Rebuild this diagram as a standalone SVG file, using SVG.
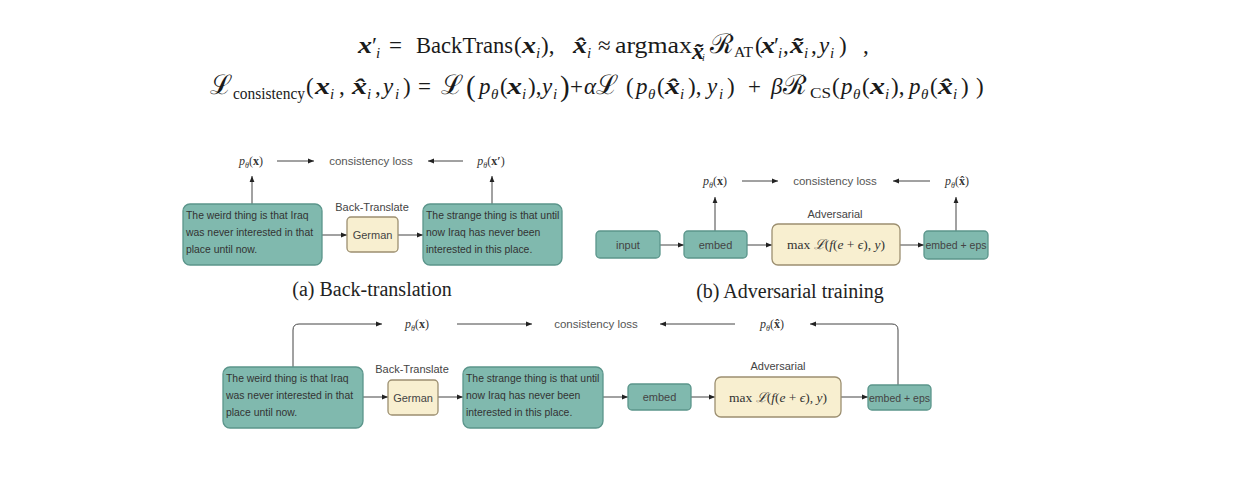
<svg xmlns="http://www.w3.org/2000/svg" width="1250" height="478" viewBox="0 0 1250 478">
<style>
.eq{font-family:"Liberation Serif","DejaVu Serif",serif;font-size:23px;fill:#1a1a1a}
.b{font-weight:bold;font-style:italic;font-size:24px}
.it{font-style:italic}
.cal{font-size:27px}
.sub{font-size:15px;font-style:italic}
.box{fill:#80b9ae;stroke:#5b958b;stroke-width:1.3}
.cream{fill:#f8efd0;stroke:#9c8f70;stroke-width:1.3}
.bt{font-family:"Liberation Sans",Arial,sans-serif;font-size:10.4px;fill:#333}
.lbl{font-family:"Liberation Sans",Arial,sans-serif;font-size:11.5px;fill:#555}
.nl{font-family:"Liberation Sans",Arial,sans-serif;font-size:11px;fill:#444}
.p{font-family:"Liberation Serif","DejaVu Serif",serif;font-size:12px;fill:#333}
.cap{font-family:"Liberation Serif","DejaVu Serif",serif;font-size:20px;fill:#222}
.ln{fill:none;stroke:#444;stroke-width:1}
.mx{font-family:"Liberation Serif","DejaVu Serif",serif;font-size:13.5px;fill:#333}
</style>
<defs>
<marker id="ah" viewBox="0 0 10 10" refX="10" refY="5" markerWidth="6" markerHeight="6" orient="auto">
<path d="M0,1 L10,5 L0,9 z" fill="#222"/>
</marker>
</defs>
<rect width="1250" height="478" fill="#ffffff"/>

<g id="equations">
<text class="eq" y="53"><tspan class="b" x="358" textLength="14" lengthAdjust="spacingAndGlyphs">x</tspan><tspan x="372">′</tspan><tspan class="sub" x="376" y="58">i</tspan><tspan x="389" y="53">=</tspan><tspan x="416" textLength="97" lengthAdjust="spacingAndGlyphs">BackTrans</tspan><tspan x="514">(</tspan><tspan class="b" x="522" textLength="14" lengthAdjust="spacingAndGlyphs">x</tspan><tspan class="sub" x="536" y="58">i</tspan><tspan x="541" y="53">),</tspan><tspan class="b" x="573" textLength="14" lengthAdjust="spacingAndGlyphs">x̂</tspan><tspan class="sub" x="587" y="58">i</tspan><tspan x="598" y="53">≈</tspan><tspan x="615" textLength="77" lengthAdjust="spacingAndGlyphs">argmax</tspan><tspan class="b" font-size="14" x="692" y="59">x̃</tspan><tspan class="it" font-size="10" x="702" y="61">i</tspan><tspan class="cal" x="710" y="53">ℛ</tspan><tspan font-size="14" x="734" y="57" textLength="19" lengthAdjust="spacingAndGlyphs">AT</tspan><tspan x="755" y="53">(</tspan><tspan class="b" x="761" textLength="14" lengthAdjust="spacingAndGlyphs">x</tspan><tspan x="774">′</tspan><tspan class="sub" x="778" y="58">i</tspan><tspan x="783" y="53">,</tspan><tspan class="b" x="790" textLength="14" lengthAdjust="spacingAndGlyphs">x̃</tspan><tspan class="sub" x="804" y="58">i</tspan><tspan x="811" y="53">,</tspan><tspan class="it" x="819">y</tspan><tspan class="sub" x="830" y="58">i</tspan><tspan x="839" y="53">)</tspan><tspan x="863">,</tspan></text>

<text class="eq" y="94"><tspan class="cal" x="210">ℒ</tspan><tspan font-size="16" x="233" y="99" textLength="72" lengthAdjust="spacingAndGlyphs">consistency</tspan><tspan x="306" y="94">(</tspan><tspan class="b" x="315" textLength="15" lengthAdjust="spacingAndGlyphs">x</tspan><tspan class="sub" x="330" y="99">i</tspan><tspan x="339" y="94">,</tspan><tspan class="b" x="352" textLength="15" lengthAdjust="spacingAndGlyphs">x̂</tspan><tspan class="sub" x="367" y="99">i</tspan><tspan x="375" y="94">,</tspan><tspan class="it" x="383">y</tspan><tspan class="sub" x="395" y="99">i</tspan><tspan x="403" y="94">)</tspan><tspan x="418">=</tspan><tspan class="cal" x="441">ℒ</tspan><tspan font-size="29" x="466" y="96">(</tspan><tspan class="it" x="479" y="94">p</tspan><tspan class="sub" x="491" y="99">θ</tspan><tspan x="500" y="94">(</tspan><tspan class="b" x="507" textLength="15" lengthAdjust="spacingAndGlyphs">x</tspan><tspan class="sub" x="522" y="99">i</tspan><tspan x="528" y="94">),</tspan><tspan class="it" x="542">y</tspan><tspan class="sub" x="553" y="99">i</tspan><tspan font-size="29" x="560" y="96">)</tspan><tspan x="570" y="94">+</tspan><tspan class="it" x="584">α</tspan><tspan class="cal" x="596">ℒ</tspan><tspan x="626">(</tspan><tspan class="it" x="636">p</tspan><tspan class="sub" x="648" y="99">θ</tspan><tspan x="657" y="94">(</tspan><tspan class="b" x="665" textLength="15" lengthAdjust="spacingAndGlyphs">x̂</tspan><tspan class="sub" x="680" y="99">i</tspan><tspan x="688" y="94">),</tspan><tspan class="it" x="707">y</tspan><tspan class="sub" x="719" y="99">i</tspan><tspan x="727" y="94">)</tspan><tspan x="748">+</tspan><tspan class="it" x="771">β</tspan><tspan class="cal" x="783">ℛ</tspan><tspan font-size="15" x="810" y="98" textLength="21" lengthAdjust="spacingAndGlyphs">CS</tspan><tspan x="832" y="94">(</tspan><tspan class="it" x="841">p</tspan><tspan class="sub" x="853" y="99">θ</tspan><tspan x="862" y="94">(</tspan><tspan class="b" x="870" textLength="15" lengthAdjust="spacingAndGlyphs">x</tspan><tspan class="sub" x="885" y="99">i</tspan><tspan x="891" y="94">),</tspan><tspan class="it" x="909">p</tspan><tspan class="sub" x="921" y="99">θ</tspan><tspan x="930" y="94">(</tspan><tspan class="b" x="938" textLength="15" lengthAdjust="spacingAndGlyphs">x̂</tspan><tspan class="sub" x="953" y="99">i</tspan><tspan x="961" y="94">)</tspan><tspan x="976">)</tspan></text>
</g>

<g id="connectors">
<!-- panel a -->
<line class="ln" x1="322" y1="235" x2="347" y2="235" marker-end="url(#ah)"/>
<line class="ln" x1="398" y1="235" x2="423" y2="235" marker-end="url(#ah)"/>
<line class="ln" x1="252" y1="204" x2="252" y2="176" marker-end="url(#ah)"/>
<line class="ln" x1="492" y1="204" x2="492" y2="176" marker-end="url(#ah)"/>
<line class="ln" x1="277" y1="161" x2="314" y2="161" marker-end="url(#ah)"/>
<line class="ln" x1="463" y1="161" x2="428" y2="161" marker-end="url(#ah)"/>
<!-- panel b -->
<line class="ln" x1="660" y1="245" x2="684" y2="245" marker-end="url(#ah)"/>
<line class="ln" x1="747" y1="245" x2="772" y2="245" marker-end="url(#ah)"/>
<line class="ln" x1="900" y1="245" x2="924" y2="245" marker-end="url(#ah)"/>
<line class="ln" x1="715" y1="231" x2="715" y2="197" marker-end="url(#ah)"/>
<line class="ln" x1="956" y1="231" x2="956" y2="197" marker-end="url(#ah)"/>
<line class="ln" x1="742" y1="181" x2="778" y2="181" marker-end="url(#ah)"/>
<line class="ln" x1="930" y1="181" x2="893" y2="181" marker-end="url(#ah)"/>
<!-- panel c -->
<line class="ln" x1="363" y1="397" x2="388" y2="397" marker-end="url(#ah)"/>
<line class="ln" x1="438" y1="397" x2="463" y2="397" marker-end="url(#ah)"/>
<line class="ln" x1="603" y1="397" x2="628" y2="397" marker-end="url(#ah)"/>
<line class="ln" x1="691" y1="397" x2="715" y2="397" marker-end="url(#ah)"/>
<line class="ln" x1="841" y1="397" x2="868" y2="397" marker-end="url(#ah)"/>
<path class="ln" d="M293,367 L293,330 Q293,324 299,324 L382,324" marker-end="url(#ah)"/>
<line class="ln" x1="457" y1="324" x2="532" y2="324" marker-end="url(#ah)"/>
<line class="ln" x1="735" y1="324" x2="660" y2="324" marker-end="url(#ah)"/>
<path class="ln" d="M898,385 L898,330 Q898,324 892,324 L810,324" marker-end="url(#ah)"/>
</g>

<g id="panel-a">
<g id="a-src"><rect class="box" x="183" y="204" width="139" height="61" rx="7"/>
<text class="bt" x="186" y="219">The weird thing is that Iraq</text>
<text class="bt" x="186" y="236">was never interested in that</text>
<text class="bt" x="186" y="253">place until now.</text></g>
<g id="a-german"><rect class="cream" x="347" y="217" width="51" height="35" rx="4"/>
<text class="nl" x="372.5" y="238.5" text-anchor="middle">German</text>
<text class="nl" x="372" y="211" text-anchor="middle">Back-Translate</text></g>
<g id="a-tgt"><rect class="box" x="423" y="204" width="139" height="61" rx="7"/>
<text class="bt" x="426" y="219">The strange thing is that until</text>
<text class="bt" x="426" y="236">now Iraq has never been</text>
<text class="bt" x="426" y="253">interested in this place.</text></g>
<g id="a-px"><text class="p" x="251" y="165" text-anchor="middle"><tspan font-style="italic">p</tspan><tspan font-size="8" font-style="italic" dy="3">θ</tspan><tspan dy="-3">(</tspan><tspan font-weight="bold">x</tspan>)</text></g>
<g id="a-loss"><text class="lbl" x="371" y="165" text-anchor="middle">consistency loss</text></g>
<g id="a-pxp"><text class="p" x="491" y="165" text-anchor="middle"><tspan font-style="italic">p</tspan><tspan font-size="8" font-style="italic" dy="3">θ</tspan><tspan dy="-3">(</tspan><tspan font-weight="bold">x′</tspan>)</text></g>
<text class="cap" x="372" y="296" text-anchor="middle">(a) Back-translation</text>
</g>

<g id="panel-b">
<g id="b-input"><rect class="box" x="596" y="231" width="64" height="27" rx="4"/>
<text class="nl" x="628" y="248.5" text-anchor="middle">input</text></g>
<g id="b-embed"><rect class="box" x="684" y="231" width="63" height="27" rx="4"/>
<text class="nl" x="715.5" y="248.5" text-anchor="middle">embed</text></g>
<g id="b-adv"><rect class="cream" x="772" y="224" width="128" height="41" rx="6"/>
<text class="nl" x="835" y="218" text-anchor="middle">Adversarial</text>
<text class="mx" x="836" y="249" text-anchor="middle">max <tspan font-style="italic">ℒ</tspan>(<tspan font-style="italic">f</tspan>(<tspan font-style="italic">e</tspan> + <tspan font-style="italic">ϵ</tspan>), <tspan font-style="italic">y</tspan>)</text></g>
<g id="b-eps"><rect class="box" x="924" y="231" width="64" height="28" rx="4"/>
<text class="nl" x="956" y="249" text-anchor="middle" textLength="61" lengthAdjust="spacingAndGlyphs">embed + eps</text></g>
<g id="b-px"><text class="p" x="715" y="185" text-anchor="middle"><tspan font-style="italic">p</tspan><tspan font-size="8" font-style="italic" dy="3">θ</tspan><tspan dy="-3">(</tspan><tspan font-weight="bold">x</tspan>)</text></g>
<g id="b-loss"><text class="lbl" x="835" y="185" text-anchor="middle">consistency loss</text></g>
<g id="b-pxh"><text class="p" x="957" y="185" text-anchor="middle"><tspan font-style="italic">p</tspan><tspan font-size="8" font-style="italic" dy="3">θ</tspan><tspan dy="-3">(</tspan><tspan font-weight="bold">x̂</tspan>)</text></g>
<text class="cap" x="790" y="298" text-anchor="middle">(b) Adversarial training</text>
</g>

<g id="panel-c">
<g id="c-src"><rect class="box" x="223" y="367" width="140" height="61" rx="7"/>
<text class="bt" x="226" y="382">The weird thing is that Iraq</text>
<text class="bt" x="226" y="399">was never interested in that</text>
<text class="bt" x="226" y="416">place until now.</text></g>
<g id="c-german"><rect class="cream" x="388" y="380" width="50" height="35" rx="4"/>
<text class="nl" x="413" y="401.5" text-anchor="middle">German</text>
<text class="nl" x="412" y="373" text-anchor="middle">Back-Translate</text></g>
<g id="c-tgt"><rect class="box" x="463" y="367" width="140" height="61" rx="7"/>
<text class="bt" x="466" y="382">The strange thing is that until</text>
<text class="bt" x="466" y="399">now Iraq has never been</text>
<text class="bt" x="466" y="416">interested in this place.</text></g>
<g id="c-embed"><rect class="box" x="628" y="384" width="63" height="26" rx="4"/>
<text class="nl" x="659.5" y="401" text-anchor="middle">embed</text></g>
<g id="c-adv"><rect class="cream" x="715" y="377" width="126" height="40" rx="6"/>
<text class="nl" x="778" y="370" text-anchor="middle">Adversarial</text>
<text class="mx" x="778" y="402" text-anchor="middle">max <tspan font-style="italic">ℒ</tspan>(<tspan font-style="italic">f</tspan>(<tspan font-style="italic">e</tspan> + <tspan font-style="italic">ϵ</tspan>), <tspan font-style="italic">y</tspan>)</text></g>
<g id="c-eps"><rect class="box" x="868" y="385" width="63" height="25" rx="4"/>
<text class="nl" x="899.5" y="401.5" text-anchor="middle" textLength="61" lengthAdjust="spacingAndGlyphs">embed + eps</text></g>
<g id="c-px"><text class="p" x="417" y="328" text-anchor="middle"><tspan font-style="italic">p</tspan><tspan font-size="8" font-style="italic" dy="3">θ</tspan><tspan dy="-3">(</tspan><tspan font-weight="bold">x</tspan>)</text></g>
<g id="c-loss"><text class="lbl" x="596" y="328" text-anchor="middle">consistency loss</text></g>
<g id="c-pxh"><text class="p" x="772" y="328" text-anchor="middle"><tspan font-style="italic">p</tspan><tspan font-size="8" font-style="italic" dy="3">θ</tspan><tspan dy="-3">(</tspan><tspan font-weight="bold">x̂</tspan>)</text></g>
</g>
</svg>
